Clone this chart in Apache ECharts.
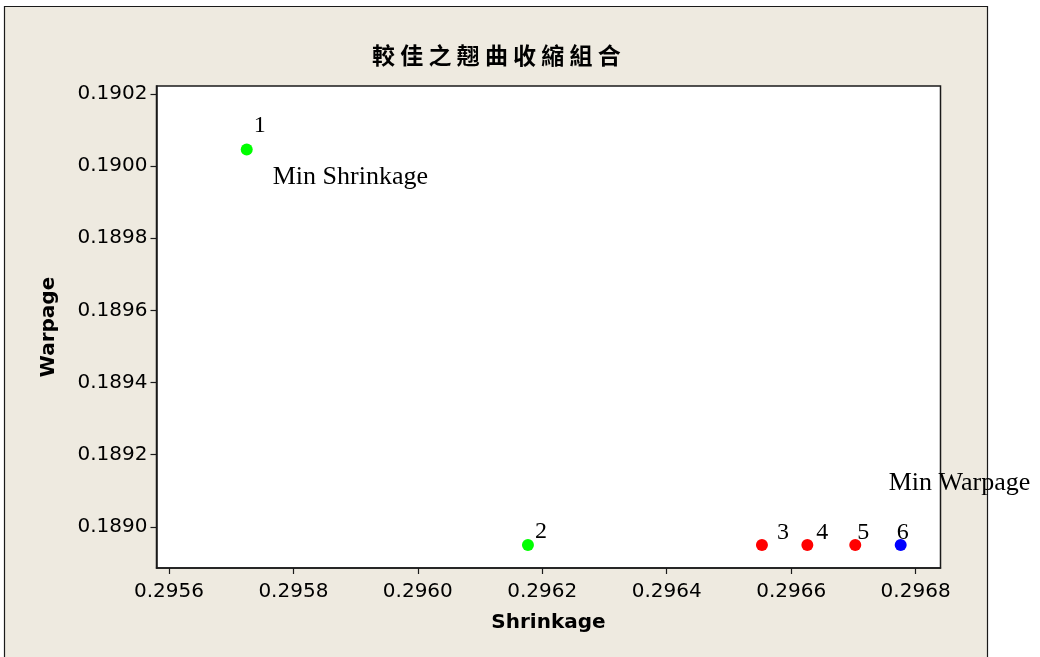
<!DOCTYPE html>
<html>
<head>
<meta charset="utf-8">
<script src="https://cdn.jsdelivr.net/npm/echarts@6/dist/echarts.min.js"></script>
<style>
  html, body { margin: 0; padding: 0; background: #ffffff; }
  #chart { width: 1040px; height: 657px; }
</style>
</head>
<body>
<div id="chart"></div>
<script>
// Run numbers and their responses
const runIds = ['1', '2', '3', '4', '5', '6'];
const shrinkage = [0.295725, 0.296177, 0.296553, 0.296626, 0.296703, 0.296776];
const warpage = [0.190046, 0.188950, 0.188950, 0.188950, 0.188950, 0.188950];
const pointColors = ['#00ff00', '#00ff00', '#ff0000', '#ff0000', '#ff0000', '#0000ff'];

// Optimum annotations: which run each note belongs to
const noteRuns = [0, 5];
const noteTexts = ['Min Shrinkage', 'Min Warpage'];

// Axis tick labels
const xTicks = [0.2956, 0.2958, 0.2960, 0.2962, 0.2964, 0.2966, 0.2968];
const yTicks = [0.1890, 0.1892, 0.1894, 0.1896, 0.1898, 0.1900, 0.1902];

// Hand-placed label offsets (pixels from each dot)
const idLabelOffsets = [[13, -24], [13, -13], [21, -12], [15, -12], [8, -12], [2, -12]];
const noteOffsets = [[26, 28], [-12, -62]];

const chart = echarts.init(document.getElementById('chart'), null, { renderer: 'canvas' });

const serif = '"Liberation Serif", "Times New Roman", serif';
const sans = '"DejaVu Sans", Verdana, sans-serif';

const points = runIds.map((id, i) => ({
  value: [shrinkage[i], warpage[i]],
  itemStyle: { color: pointColors[i], opacity: 1 },
  label: { offset: idLabelOffsets[i] }
}));

const notes = noteRuns.map((r, k) => ({
  value: [shrinkage[r], warpage[r]],
  name: noteTexts[k],
  label: { offset: noteOffsets[k] }
}));

chart.setOption({
  backgroundColor: '#ffffff',
  animation: false,
  title: {
    text: '較 佳 之 翹 曲 收 縮 組 合',
    left: 367,
    top: 39,
    textStyle: {
      fontFamily: '"Noto Sans CJK TC", "Noto Sans CJK SC", sans-serif',
      fontWeight: 'bold',
      fontSize: 23,
      color: '#000000'
    }
  },
  graphic: [
    {
      type: 'rect',
      z: -10,
      silent: true,
      shape: { x: 4.5, y: 6.5, width: 983, height: 700 },
      style: { fill: '#eeeae0', stroke: '#1a1a1a', lineWidth: 1.2 }
    }
  ],
  grid: {
    left: 156.5,
    right: 99.5,
    top: 86,
    bottom: 89,
    show: true,
    backgroundColor: '#ffffff',
    borderColor: '#1a1a1a',
    borderWidth: 1.5
  },
  xAxis: {
    type: 'value',
    min: 0.29558,
    max: 0.29684,
    name: 'Shrinkage',
    nameLocation: 'middle',
    nameGap: 45,
    nameTextStyle: { fontFamily: sans, fontWeight: 'bold', fontSize: 20, color: '#000' },
    splitLine: { show: false },
    axisLine: { show: true, lineStyle: { color: '#1a1a1a', width: 1.5 } },
    axisTick: { show: true, length: 6, customValues: xTicks, lineStyle: { color: '#1a1a1a', width: 1.2 } },
    axisLabel: {
      customValues: xTicks,
      formatter: v => v.toFixed(4),
      margin: 14,
      fontFamily: sans,
      fontSize: 20,
      color: '#000000'
    }
  },
  yAxis: {
    type: 'value',
    min: 0.188886,
    max: 0.190222,
    name: 'Warpage',
    nameLocation: 'middle',
    nameGap: 98,
    nameTextStyle: { fontFamily: sans, fontWeight: 'bold', fontSize: 20, color: '#000' },
    splitLine: { show: false },
    axisLine: { show: true, lineStyle: { color: '#1a1a1a', width: 1.5 } },
    axisTick: { show: true, length: 6, customValues: yTicks, lineStyle: { color: '#1a1a1a', width: 1.2 } },
    axisLabel: {
      customValues: yTicks,
      formatter: v => v.toFixed(4),
      margin: 9,
      fontFamily: sans,
      fontSize: 20,
      color: '#000000'
    }
  },
  series: [
    {
      type: 'scatter',
      symbol: 'circle',
      symbolSize: 12,
      data: points,
      z: 3,
      itemStyle: { opacity: 1 },
      label: {
        show: true,
        position: 'inside',
        align: 'center',
        verticalAlign: 'middle',
        formatter: p => runIds[p.dataIndex],
        fontFamily: serif,
        fontSize: 24,
        color: '#000000'
      }
    },
    {
      type: 'scatter',
      symbol: 'circle',
      symbolSize: 1,
      data: notes,
      z: 5,
      itemStyle: { color: 'rgba(0,0,0,0)', opacity: 1 },
      label: {
        show: true,
        position: 'inside',
        align: 'left',
        verticalAlign: 'middle',
        formatter: p => p.name,
        fontFamily: serif,
        fontSize: 26,
        color: '#000000'
      }
    }
  ]
});
</script>
</body>
</html>
